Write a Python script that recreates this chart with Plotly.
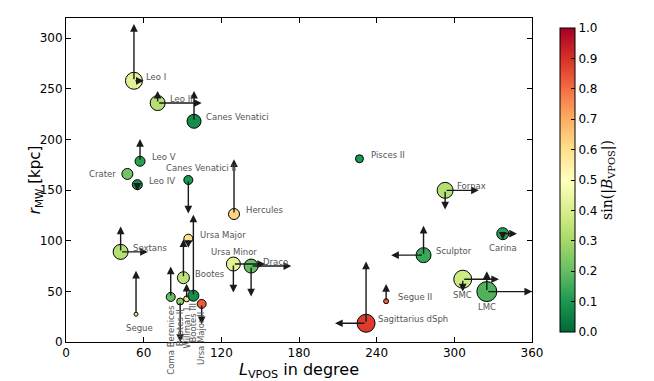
import plotly.graph_objects as go

# satellite galaxies: position in VPOS longitude, distance and |sin B|
names = ["Leo I", "Leo II", "Canes Venatici", "Leo V", "Crater", "Leo IV",
         "Canes Venatici II", "Hercules", "Ursa Major", "Bootes", "Sextans",
         "Segue", "Coma Berenices", "Bootes II", "Willman 1", "Bootes III",
         "Ursa Major II", "Ursa Minor", "Draco", "Pisces II",
         "Sagittarius dSph", "Segue II", "Sculptor", "Fornax", "Carina",
         "SMC", "LMC"]
L_vpos = [52.5, 70.8, 98.9, 57.2, 47.4, 55.1, 94.5, 129.8, 94.5, 90.7, 42.2,
          54.1, 80.9, 88.2, 93.2, 98.4, 104.8, 129.3, 143.0, 226.7, 231.8,
          247.3, 276.2, 292.9, 337.4, 306.5, 325.1]
r_mw = [258, 236, 218, 178.5, 166, 155.4, 160, 126.4, 102, 63.5, 89, 27.4,
        44.5, 40, 42.6, 45.8, 37.6, 77, 75, 181, 18.5, 40.3, 85.8, 149.8,
        107, 62, 49.8]
sin_b = [0.42, 0.33, 0.08, 0.12, 0.22, 0.08, 0.10, 0.62, 0.60, 0.34, 0.33,
         0.60, 0.20, 0.25, 0.60, 0.08, 0.83, 0.42, 0.20, 0.10, 0.88, 0.82,
         0.14, 0.33, 0.12, 0.38, 0.17]
msize = [17, 15, 14, 10, 11, 10, 9, 11, 9, 12, 15, 4, 9, 7, 6, 11, 9, 14, 14,
         8, 18, 5, 15, 16, 12, 18, 20]
# velocity arrows: horizontal (dL) and vertical (dr) components
arrow_dL = [7.5, 34, 0, 0, 0, 0, 0, 0, 0, 0, 21, 0, 0, 0, 0, 0, 0, 24.5, 31,
            0, -24, 0, -25, 26, 11, 28, 35]
arrow_dr = [56, 12, 30, 22, 0, -6, -33, 54, -9, 38, 25, 43, 30, -40, 15, 80,
            -20, -28, -30, 0, 61, 17, 29, -19, -6, -12, 20]

# label placement (pixel offsets), default right of the marker
label_pos = {
    "Crater": ("right", -9, 0),
    "Canes Venatici II": ("center", 13, -12),
    "Segue": ("center", 3, 14),
    "Ursa Minor": ("center", 1, -12),
    "Carina": ("center", 0, 14),
    "SMC": ("center", 0, 16),
    "LMC": ("center", 0, 15),
}
vertical = ["Coma Berenices", "Bootes II", "Willman 1", "Bootes III",
            "Ursa Major II"]

fig = go.Figure()
fig.add_trace(go.Scatter(
    x=L_vpos, y=r_mw, mode="markers",
    marker=dict(size=msize, color=sin_b, cmin=0, cmax=1, opacity=1,
                colorscale="RdYlGn_r", line=dict(color="black", width=1),
                colorbar=dict(
                    x=1.061, xanchor="left", xpad=0, y=0.5, len=1,
                    thickness=15, outlinewidth=1, outlinecolor="black",
                    tickvals=[i / 10 for i in range(11)], tickformat=".1f",
                    ticks="inside", ticklen=4, tickcolor="black",
                    tickfont=dict(size=12, color="black"),
                    title=dict(text="sin(|<i>B</i><sub>VPOS</sub>|)",
                               side="right",
                               font=dict(size=14, family="DejaVu Serif")))),
    hoverinfo="text", text=names, showlegend=False))

ann = []
for i, n in enumerate(names):
    x0, y0 = L_vpos[i], r_mw[i]
    for dx, dy in ((arrow_dL[i], 0), (0, arrow_dr[i])):
        if dx == 0 and dy == 0:
            continue
        ann.append(dict(x=x0 + dx, y=y0 + dy, ax=x0, ay=y0, axref="x",
                        ayref="y", xref="x", yref="y", text="",
                        showarrow=True, arrowhead=2, arrowsize=1.1,
                        arrowwidth=1.4, arrowcolor="#1a1a1a", standoff=0,
                        startstandoff=0))
for i, n in enumerate(names):
    x0, y0 = L_vpos[i], r_mw[i]
    if n in vertical:
        ann.append(dict(x=x0, y=y0, xref="x", yref="y", text=n,
                        showarrow=False, textangle=-90, xanchor="center",
                        yanchor="top", yshift=-6,
                        font=dict(size=8.5, color="#555")))
        continue
    anchor, dx, dy = label_pos.get(n, ("left", 10, -4))
    ann.append(dict(x=x0, y=y0, xref="x", yref="y", text=n, showarrow=False,
                    xanchor=anchor, yanchor="middle", xshift=dx, yshift=-dy,
                    font=dict(size=8.5, color="#555")))

# y axis title
ann.append(dict(x=-0.066, y=0.5, xref="paper", yref="paper",
                text="<i>r</i><sub>MW</sub> [kpc]", textangle=-90,
                showarrow=False, xanchor="center", yanchor="middle",
                font=dict(size=15)))

axis = dict(showline=True, linecolor="black", linewidth=1, mirror="ticks",
            ticks="inside", ticklen=5, tickcolor="black", showgrid=False,
            zeroline=False, automargin=False,
            tickfont=dict(size=12, color="black"))
# page body adds an 8px offset, so the figure is 8px smaller each way
fig.update_layout(
    width=646, height=373,
    margin=dict(l=58, r=122, t=10, b=39, autoexpand=False),
    plot_bgcolor="white", paper_bgcolor="white",
    font=dict(family="DejaVu Sans", color="black"),
    xaxis=dict(axis, range=[0, 360], tickvals=list(range(0, 361, 60)),
               title=dict(text="<i>L</i><sub>VPOS</sub> in degree",
                          font=dict(size=16), standoff=2)),
    yaxis=dict(axis, range=[0, 320], tickvals=list(range(0, 301, 50))),
    annotations=ann,
)
fig.write_html("out.html")
